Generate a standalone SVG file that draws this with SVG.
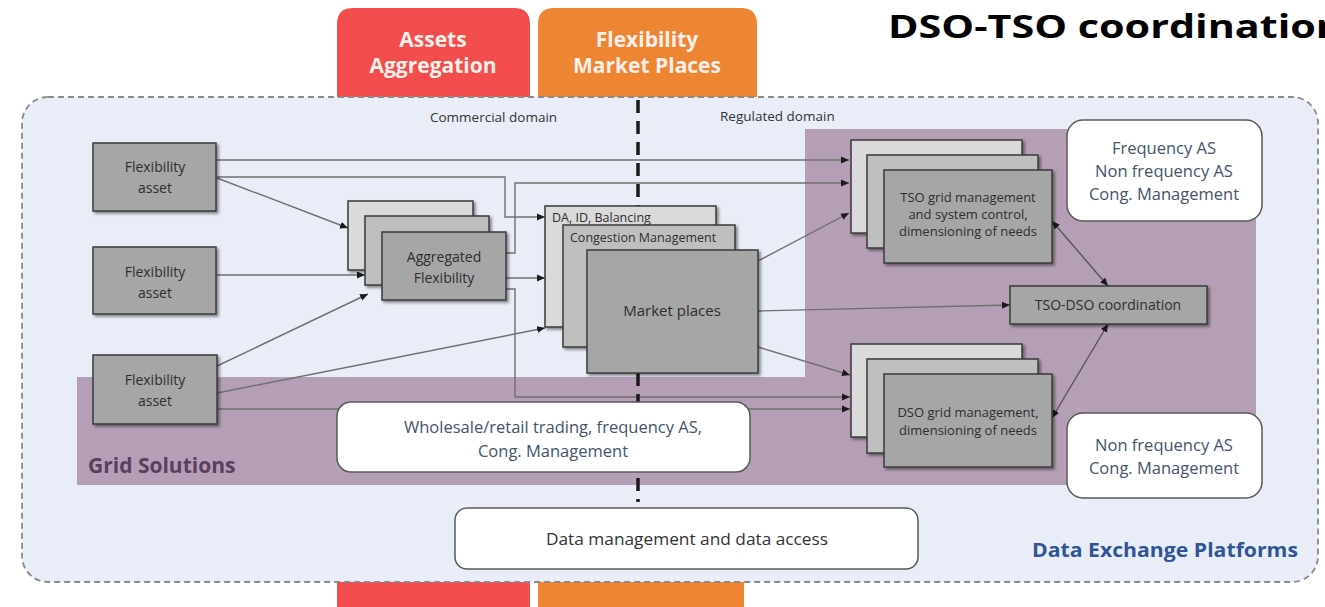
<svg xmlns="http://www.w3.org/2000/svg" width="1325" height="607" viewBox="0 0 1325 607">
  <defs>
    <marker id="arr" viewBox="0 0 8 8" refX="8" refY="4" markerWidth="8" markerHeight="8" markerUnits="userSpaceOnUse" orient="auto-start-reverse">
      <path d="M0,0.5 L8,4 L0,7.5 Z" fill="#1a1a1a"/>
    </marker>
    <filter id="sh" x="-10%" y="-10%" width="130%" height="130%">
      <feDropShadow dx="2" dy="2" stdDeviation="1.5" flood-color="#000" flood-opacity="0.45"/>
    </filter>
  </defs>
  <style>
    text { font-family: "Open Sans", "Noto Sans", "Liberation Sans", sans-serif; }
    .tab { font-size: 21px; font-weight: bold; fill: #fdf0ea; text-anchor: middle; }
    .dom { font-size: 13.5px; fill: #333; }
    .box { stroke: #3a3a3a; stroke-width: 1.5; filter: url(#sh); }
    .b1 { fill: #dadada; }
    .b2 { fill: #bfbfbf; }
    .b3 { fill: #a6a6a6; }
    .lbl { font-size: 14px; fill: #2e2e2e; text-anchor: middle; }
    .sm { font-size: 13px; fill: #2e2e2e; text-anchor: middle; }
    .note { fill: #fff; stroke: #595959; stroke-width: 1.5; }
    .ntxt { font-size: 16.5px; fill: #44546a; text-anchor: middle; }
    .conn path { fill: none; stroke: #707070; stroke-width: 1.4; marker-end: url(#arr); }
    .conn path.bi { stroke: #555; marker-start: url(#arr); }
  </style>

  <rect width="1325" height="607" fill="#fff"/>

  <!-- column tabs, running behind the platform frame -->
  <g id="tab-assets">
    <path d="M337,24 Q337,8 353,8 H514 Q530,8 530,24 V607 H337 Z" fill="#f24c4c"/>
    <text class="tab" x="433" y="47">Assets</text>
    <text class="tab" x="433" y="73">Aggregation</text>
  </g>
  <g id="tab-markets">
    <path d="M538,24 Q538,8 554,8 H741 Q757,8 757,24 V97 H538 Z" fill="#ee8533"/>
    <rect x="538" y="560" width="206" height="47" fill="#ee8533"/>
    <text class="tab" x="647" y="47">Flexibility</text>
    <text class="tab" x="647" y="73">Market Places</text>
  </g>

  <text x="888" y="38" font-size="33" font-weight="bold" fill="#000" textLength="455" lengthAdjust="spacingAndGlyphs">DSO-TSO coordination</text>

  <!-- data exchange platform frame -->
  <g id="platform">
    <rect x="22" y="97" width="1296" height="485" rx="26" fill="#e9edf7" stroke="#8a8a8a" stroke-width="1.8" stroke-dasharray="6 4"/>
    <text x="1032" y="557" font-size="20" font-weight="bold" fill="#2f5597" textLength="266" lengthAdjust="spacingAndGlyphs">Data Exchange Platforms</text>
  </g>

  <!-- grid solutions area -->
  <g id="grid-solutions">
    <path d="M805,129 H1256 V485 H77 V377 H805 Z" fill="#b59fb6"/>
    <text x="88" y="473" font-size="21" font-weight="bold" fill="#5a3f5e">Grid Solutions</text>
  </g>

  <text class="dom" x="430" y="122">Commercial domain</text>
  <text class="dom" x="720" y="121">Regulated domain</text>

  <!-- connectors -->
  <g id="connectors" class="conn">
    <path d="M217,160 H849"/>
    <path d="M217,177 H505 V217 H545"/>
    <path d="M217,178 L348,228"/>
    <path d="M217,275 H365"/>
    <path d="M217,366 L368,294"/>
    <path d="M217,393 L545,328"/>
    <path d="M217,409 H850"/>
    <path d="M506,253 H515 V183 H849"/>
    <path d="M506,278 H545"/>
    <path d="M506,289 H515 V397 H850"/>
    <path d="M758,261 L849,213"/>
    <path d="M758,311 L1010,305"/>
    <path d="M758,347 L850,375"/>
    <path class="bi" d="M1052,221 L1108,286"/>
    <path class="bi" d="M1052,418 L1108,324"/>
  </g>

  <!-- border between commercial and regulated domain -->
  <line x1="638" y1="100" x2="638" y2="502" stroke="#1a1a1a" stroke-width="3.5" stroke-dasharray="13 8"/>

  <g id="flex-asset-1">
    <rect class="box b3" x="93" y="143" width="123" height="68"/>
    <text class="lbl" x="155" y="172">Flexibility</text>
    <text class="lbl" x="155" y="193">asset</text>
  </g>
  <g id="flex-asset-2">
    <rect class="box b3" x="93" y="247" width="123" height="67"/>
    <text class="lbl" x="155" y="277">Flexibility</text>
    <text class="lbl" x="155" y="298">asset</text>
  </g>
  <g id="flex-asset-3">
    <rect class="box b3" x="93" y="355" width="124" height="69"/>
    <text class="lbl" x="155" y="385">Flexibility</text>
    <text class="lbl" x="155" y="406">asset</text>
  </g>

  <g id="aggregated-flexibility">
    <rect class="box b1" x="348" y="201" width="125" height="69"/>
    <rect class="box b2" x="365" y="216" width="124" height="69"/>
    <rect class="box b3" x="382" y="232" width="124" height="68"/>
    <text class="lbl" x="444" y="262">Aggregated</text>
    <text class="lbl" x="444" y="283">Flexibility</text>
  </g>

  <g id="market-places">
    <rect class="box b1" x="545" y="206" width="171" height="121"/>
    <text x="552" y="222" font-size="12.5" fill="#2e2e2e">DA, ID, Balancing</text>
    <rect class="box b2" x="563" y="225" width="172" height="122"/>
    <text x="570" y="242" font-size="12.5" fill="#2e2e2e">Congestion Management</text>
    <rect class="box b3" x="587" y="250" width="171" height="123"/>
    <text x="672" y="316" font-size="15" fill="#2e2e2e" text-anchor="middle">Market places</text>
  </g>

  <g id="tso-grid-management">
    <rect class="box b1" x="851" y="140" width="171" height="93"/>
    <rect class="box b2" x="867" y="155" width="171" height="93"/>
    <rect class="box b3" x="884" y="170" width="168" height="93"/>
    <text class="sm" x="968" y="202">TSO grid management</text>
    <text class="sm" x="968" y="219">and system control,</text>
    <text class="sm" x="968" y="236">dimensioning of needs</text>
  </g>

  <g id="tso-dso-coordination">
    <rect class="box b3" x="1010" y="286" width="197" height="38"/>
    <text x="1108" y="310" font-size="14" fill="#2e2e2e" text-anchor="middle">TSO-DSO coordination</text>
  </g>

  <g id="dso-grid-management">
    <rect class="box b1" x="851" y="344" width="171" height="93"/>
    <rect class="box b2" x="867" y="359" width="171" height="94"/>
    <rect class="box b3" x="884" y="374" width="168" height="93"/>
    <text class="sm" x="968" y="417">DSO grid management,</text>
    <text class="sm" x="968" y="435">dimensioning of needs</text>
  </g>

  <g id="tso-services">
    <rect class="note" x="1067" y="120" width="195" height="101" rx="16"/>
    <text class="ntxt" x="1164" y="154">Frequency AS</text>
    <text class="ntxt" x="1164" y="177">Non frequency AS</text>
    <text class="ntxt" x="1164" y="200">Cong. Management</text>
  </g>

  <g id="dso-services">
    <rect class="note" x="1067" y="413" width="195" height="85" rx="16"/>
    <text class="ntxt" x="1164" y="451">Non frequency AS</text>
    <text class="ntxt" x="1164" y="474">Cong. Management</text>
  </g>

  <g id="market-services">
    <rect class="note" x="337" y="402" width="413" height="70" rx="14"/>
    <text class="ntxt" x="553" y="433">Wholesale/retail trading, frequency AS,</text>
    <text class="ntxt" x="553" y="457">Cong. Management</text>
  </g>

  <g id="data-management">
    <rect class="note" x="455" y="508" width="463" height="61" rx="12"/>
    <text x="687" y="545" font-size="16" fill="#333" text-anchor="middle" textLength="282" lengthAdjust="spacingAndGlyphs">Data management and data access</text>
  </g>
</svg>
